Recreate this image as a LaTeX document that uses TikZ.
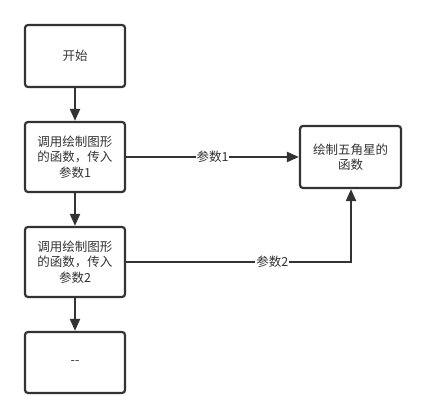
\documentclass[tikz,border=0pt]{standalone}
\usepackage{fontspec}
\setmainfont{Noto Sans CJK SC}
\usetikzlibrary{arrows.meta}
\definecolor{linegray}{HTML}{333333}
\tikzset {
    step box/.style = {draw = linegray, line width = 2.2pt, rounded corners = 3pt,
        minimum width = 100pt, align = center,
        font = \fontsize{12.5pt}{15.5pt}\selectfont, text = linegray},
    flow/.style = {draw = linegray, line width = 2.2pt,
        arrows = {-Triangle[length = 12pt, width = 10pt]}},
    flow label/.style = {fill = white, inner sep = 1pt, text = linegray,
        font = \fontsize{12.5pt}{15pt}\selectfont}
}
\begin{document}
\begin{tikzpicture}[x = 1pt, y = -1pt]
    \useasboundingbox (0, 0) rectangle (426, 419);
    \node (start) [step box, minimum height = 62pt] at (75, 56) {开始};
    \node (call1) [step box, minimum height = 70pt] at (75, 157) {调用绘制图形\\的函数，传入\\参数1};
    \node (call2) [step box, minimum height = 70pt] at (75, 262) {调用绘制图形\\的函数，传入\\参数2};
    \node (rest) [step box, minimum height = 61pt] at (75, 362.5) {{-}{-}};
    \node (star) [step box, minimum width = 101pt, minimum height = 62pt] at (350.5, 157) {绘制五角星的\\函数};
    \coordinate (turn) at (351, 262);
    \draw [flow] (start) -- (call1);
    \draw [flow] (call1) -- (call2);
    \draw [flow] (call2) -- (rest);
    \draw [flow] (call1) -- node [flow label] {参数1} (star);
    \draw [flow] (call2) -- node [flow label, pos = 0.65] {参数2} (turn) -- (star.south -| turn);
\end{tikzpicture}
\end{document}
